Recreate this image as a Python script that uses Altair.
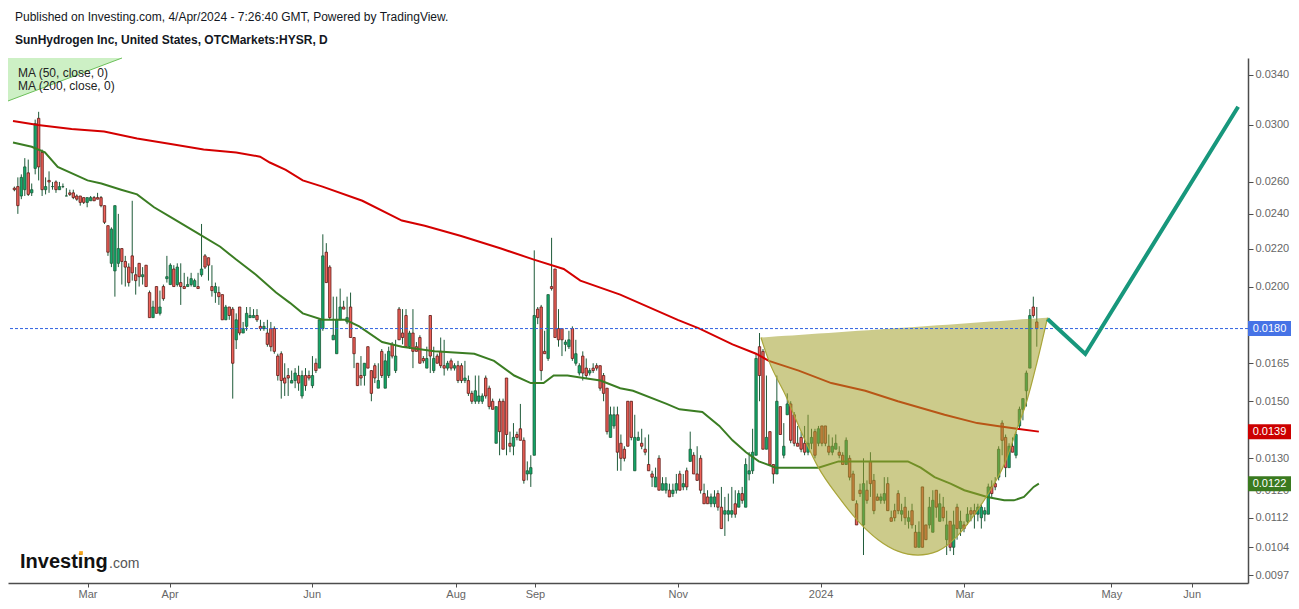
import altair as alt
import pandas as pd

FONT = "Liberation Sans, Arial, sans-serif"

# ---------------- daily candles ----------------
opens = [0.0256,0.0257,0.0251,0.0255,0.0266,0.0253,0.0269,0.0305,0.0280,0.0255,
         0.0261,0.0257,0.0260,0.0255,0.0257,0.0251,0.0253,0.0253,0.0251,0.0251,
         0.0250,0.0247,0.0248,0.0250,0.0250,0.0250,0.0245,0.0233,0.0212,0.0208,
         0.0212,0.0220,0.0213,0.0210,0.0216,0.0206,0.0212,0.0205,0.0211,0.0197,
         0.0185,0.0200,0.0187,0.0200,0.0204,0.0201,0.0209,0.0201,0.0202,0.0200,
         0.0200,0.0201,0.0200,0.0200,0.0206,0.0216,0.0215,0.0200,0.0197,0.0197,
         0.0196,0.0184,0.0190,0.0189,0.0175,0.0190,0.0178,0.0181,0.0185,0.0185,
         0.0186,0.0181,0.0180,0.0178,0.0180,0.0180,0.0168,0.0169,0.0159,0.0160,
         0.0157,0.0158,0.0160,0.0152,0.0160,0.0160,0.0156,0.0165,0.0163,0.0180,
         0.0218,0.0210,0.0175,0.0169,0.0184,0.0190,0.0183,0.0190,0.0176,0.0165,
         0.0160,0.0160,0.0172,0.0162,0.0164,0.0155,0.0170,0.0155,0.0160,0.0173,
         0.0162,0.0189,0.0178,0.0186,0.0172,0.0178,0.0172,0.0176,0.0167,0.0163,
         0.0186,0.0162,0.0168,0.0170,0.0164,0.0163,0.0166,0.0163,0.0164,0.0164,
         0.0158,0.0158,0.0153,0.0150,0.0150,0.0150,0.0159,0.0155,0.0150,0.0135,
         0.0150,0.0150,0.0159,0.0135,0.0134,0.0138,0.0140,0.0136,0.0125,0.0125,
         0.0131,0.0189,0.0190,0.0170,0.0167,0.0200,0.0209,0.0180,0.0180,0.0173,
         0.0172,0.0180,0.0165,0.0161,0.0168,0.0163,0.0161,0.0163,0.0164,0.0164,
         0.0160,0.0155,0.0137,0.0141,0.0145,0.0135,0.0133,0.0150,0.0150,0.0126,
         0.0136,0.0135,0.0133,0.0128,0.0125,0.0121,0.0130,0.0120,0.0120,0.0120,
         0.0119,0.0120,0.0125,0.0121,0.0126,0.0129,0.0131,0.0125,0.0130,0.0119,
         0.0118,0.0116,0.0116,0.0119,0.0115,0.0113,0.0113,0.0113,0.0116,0.0115,
         0.0119,0.0115,0.0125,0.0126,0.0131,0.0172,0.0170,0.0133,0.0139,0.0128,
         0.0125,0.0148,0.0131,0.0145,0.0149,0.0145,0.0135,0.0137,0.0135,0.0132,
         0.0135,0.0139,0.0135,0.0141,0.0141,0.0134,0.0132,0.0133,0.0132,0.0131,
         0.0128,0.0130,0.0125,0.0116,0.0120,0.0110,0.0120,0.0129,0.0123,0.0118,
         0.0117,0.0117,0.0122,0.0112,0.0114,0.0119,0.0113,0.0115,0.0111,0.0114,
         0.0108,0.0104,0.0121,0.0110,0.0110,0.0108,0.0120,0.0111,0.0115,0.0106,
         0.0111,0.0104,0.0115,0.0109,0.0110,0.0111,0.0114,0.0114,0.0113,0.0112,
         0.0113,0.0113,0.0121,0.0122,0.0124,0.0142,0.0137,0.0127,0.0134,0.0131,
         0.0141,0.0147,0.0154,0.0163,0.0190,0.0183]
highs = [0.0257,0.0263,0.0265,0.0276,0.0275,0.0259,0.0304,0.0310,0.0282,0.0263,
         0.0267,0.0260,0.0261,0.0260,0.0259,0.0256,0.0255,0.0255,0.0252,0.0251,
         0.0250,0.0250,0.0251,0.0251,0.0253,0.0251,0.0245,0.0233,0.0232,0.0245,
         0.0240,0.0220,0.0216,0.0212,0.0248,0.0210,0.0212,0.0210,0.0211,0.0198,
         0.0193,0.0200,0.0198,0.0201,0.0216,0.0212,0.0211,0.0212,0.0212,0.0207,
         0.0205,0.0207,0.0204,0.0207,0.0234,0.0217,0.0215,0.0211,0.0202,0.0200,
         0.0196,0.0191,0.0190,0.0190,0.0187,0.0190,0.0183,0.0190,0.0190,0.0189,
         0.0189,0.0184,0.0183,0.0184,0.0183,0.0181,0.0169,0.0170,0.0165,0.0163,
         0.0162,0.0163,0.0164,0.0162,0.0163,0.0162,0.0168,0.0167,0.0184,0.0228,
         0.0223,0.0211,0.0195,0.0195,0.0199,0.0193,0.0195,0.0197,0.0176,0.0165,
         0.0168,0.0165,0.0172,0.0162,0.0165,0.0165,0.0171,0.0169,0.0172,0.0174,
         0.0175,0.0190,0.0189,0.0189,0.0179,0.0189,0.0174,0.0177,0.0168,0.0172,
         0.0186,0.0172,0.0169,0.0176,0.0175,0.0166,0.0167,0.0165,0.0166,0.0165,
         0.0166,0.0160,0.0154,0.0160,0.0160,0.0153,0.0160,0.0156,0.0151,0.0148,
         0.0151,0.0151,0.0159,0.0139,0.0142,0.0139,0.0149,0.0137,0.0129,0.0131,
         0.0219,0.0190,0.0191,0.0179,0.0196,0.0226,0.0209,0.0189,0.0180,0.0175,
         0.0179,0.0181,0.0175,0.0165,0.0170,0.0167,0.0163,0.0165,0.0165,0.0164,
         0.0161,0.0155,0.0148,0.0148,0.0148,0.0138,0.0134,0.0150,0.0150,0.0145,
         0.0139,0.0140,0.0137,0.0138,0.0126,0.0127,0.0131,0.0124,0.0124,0.0122,
         0.0122,0.0125,0.0126,0.0125,0.0127,0.0139,0.0132,0.0134,0.0131,0.0122,
         0.0120,0.0119,0.0120,0.0120,0.0121,0.0118,0.0119,0.0121,0.0120,0.0120,
         0.0121,0.0130,0.0132,0.0140,0.0169,0.0178,0.0171,0.0160,0.0139,0.0128,
         0.0160,0.0148,0.0142,0.0153,0.0150,0.0146,0.0141,0.0139,0.0141,0.0145,
         0.0140,0.0140,0.0141,0.0141,0.0141,0.0138,0.0137,0.0138,0.0134,0.0132,
         0.0137,0.0131,0.0126,0.0117,0.0122,0.0130,0.0123,0.0132,0.0125,0.0119,
         0.0119,0.0124,0.0124,0.0114,0.0116,0.0120,0.0116,0.0118,0.0114,0.0116,
         0.0110,0.0111,0.0121,0.0110,0.0118,0.0120,0.0120,0.0119,0.0118,0.0114,
         0.0111,0.0114,0.0116,0.0114,0.0111,0.0115,0.0115,0.0116,0.0116,0.0116,
         0.0115,0.0122,0.0123,0.0124,0.0134,0.0143,0.0138,0.0135,0.0137,0.0139,
         0.0148,0.0151,0.0162,0.0189,0.0195,0.0190]
lows = [0.0254,0.0240,0.0249,0.0251,0.0251,0.0251,0.0265,0.0261,0.0251,0.0252,
        0.0253,0.0255,0.0253,0.0255,0.0256,0.0251,0.0251,0.0249,0.0248,0.0245,
        0.0246,0.0244,0.0248,0.0248,0.0249,0.0244,0.0234,0.0216,0.0210,0.0195,
        0.0210,0.0201,0.0200,0.0200,0.0203,0.0196,0.0200,0.0201,0.0200,0.0185,
        0.0185,0.0187,0.0186,0.0193,0.0202,0.0201,0.0200,0.0200,0.0191,0.0199,
        0.0200,0.0200,0.0200,0.0199,0.0205,0.0209,0.0203,0.0195,0.0192,0.0191,
        0.0184,0.0184,0.0184,0.0151,0.0171,0.0177,0.0178,0.0179,0.0185,0.0185,
        0.0183,0.0179,0.0179,0.0172,0.0170,0.0169,0.0158,0.0151,0.0152,0.0152,
        0.0157,0.0155,0.0154,0.0151,0.0154,0.0158,0.0155,0.0161,0.0163,0.0179,
        0.0202,0.0184,0.0175,0.0169,0.0184,0.0189,0.0182,0.0176,0.0163,0.0156,
        0.0156,0.0156,0.0163,0.0150,0.0157,0.0155,0.0159,0.0155,0.0159,0.0167,
        0.0161,0.0175,0.0173,0.0172,0.0171,0.0163,0.0170,0.0165,0.0165,0.0163,
        0.0161,0.0161,0.0165,0.0163,0.0160,0.0162,0.0162,0.0162,0.0157,0.0157,
        0.0157,0.0152,0.0149,0.0149,0.0149,0.0149,0.0151,0.0147,0.0147,0.0135,
        0.0131,0.0133,0.0131,0.0132,0.0131,0.0136,0.0136,0.0122,0.0123,0.0121,
        0.0131,0.0182,0.0158,0.0169,0.0166,0.0198,0.0176,0.0172,0.0168,0.0170,
        0.0171,0.0166,0.0164,0.0160,0.0158,0.0159,0.0160,0.0161,0.0162,0.0154,
        0.0150,0.0138,0.0137,0.0140,0.0126,0.0126,0.0129,0.0134,0.0136,0.0126,
        0.0136,0.0133,0.0131,0.0126,0.0121,0.0121,0.0120,0.0120,0.0119,0.0118,
        0.0118,0.0119,0.0120,0.0120,0.0120,0.0129,0.0125,0.0123,0.0119,0.0116,
        0.0116,0.0115,0.0115,0.0114,0.0109,0.0107,0.0111,0.0112,0.0112,0.0115,
        0.0116,0.0115,0.0123,0.0125,0.0131,0.0150,0.0133,0.0133,0.0128,0.0122,
        0.0125,0.0138,0.0130,0.0145,0.0135,0.0134,0.0134,0.0132,0.0131,0.0131,
        0.0133,0.0130,0.0134,0.0134,0.0134,0.0131,0.0131,0.0133,0.0130,0.0128,
        0.0128,0.0123,0.0117,0.0110,0.0118,0.0102,0.0116,0.0118,0.0113,0.0117,
        0.0116,0.0116,0.0114,0.0111,0.0111,0.0113,0.0111,0.0110,0.0109,0.0109,
        0.0104,0.0104,0.0104,0.0106,0.0109,0.0108,0.0112,0.0111,0.0111,0.0102,
        0.0103,0.0102,0.0106,0.0107,0.0108,0.0110,0.0111,0.0109,0.0111,0.0109,
        0.0111,0.0113,0.0118,0.0120,0.0123,0.0131,0.0124,0.0127,0.0132,0.0130,
        0.0140,0.0143,0.0148,0.0163,0.0185,0.0172]
closes = [0.0255,0.0245,0.0263,0.0270,0.0252,0.0255,0.0301,0.0270,0.0255,0.0257,
          0.0260,0.0257,0.0255,0.0257,0.0257,0.0251,0.0252,0.0250,0.0249,0.0247,
          0.0247,0.0250,0.0250,0.0248,0.0249,0.0245,0.0235,0.0218,0.0231,0.0245,
          0.0220,0.0213,0.0210,0.0202,0.0207,0.0203,0.0205,0.0206,0.0200,0.0185,
          0.0190,0.0187,0.0190,0.0194,0.0205,0.0211,0.0200,0.0210,0.0200,0.0199,
          0.0201,0.0204,0.0203,0.0199,0.0209,0.0210,0.0211,0.0198,0.0200,0.0195,
          0.0184,0.0190,0.0186,0.0165,0.0184,0.0178,0.0180,0.0187,0.0186,0.0186,
          0.0184,0.0180,0.0181,0.0173,0.0172,0.0170,0.0160,0.0158,0.0157,0.0159,
          0.0158,0.0161,0.0157,0.0160,0.0156,0.0159,0.0160,0.0162,0.0184,0.0216,
          0.0202,0.0185,0.0177,0.0184,0.0190,0.0189,0.0185,0.0176,0.0169,0.0156,
          0.0159,0.0165,0.0163,0.0153,0.0159,0.0158,0.0160,0.0166,0.0170,0.0168,
          0.0168,0.0175,0.0176,0.0172,0.0178,0.0170,0.0170,0.0165,0.0166,0.0167,
          0.0168,0.0167,0.0165,0.0164,0.0163,0.0165,0.0163,0.0164,0.0158,0.0158,
          0.0159,0.0153,0.0150,0.0154,0.0152,0.0152,0.0152,0.0148,0.0147,0.0148,
          0.0139,0.0133,0.0138,0.0134,0.0137,0.0137,0.0136,0.0123,0.0126,0.0127,
          0.0186,0.0185,0.0162,0.0169,0.0196,0.0199,0.0176,0.0175,0.0175,0.0174,
          0.0175,0.0167,0.0169,0.0164,0.0161,0.0160,0.0162,0.0162,0.0163,0.0155,
          0.0153,0.0139,0.0145,0.0145,0.0132,0.0130,0.0130,0.0134,0.0137,0.0137,
          0.0137,0.0134,0.0132,0.0126,0.0124,0.0124,0.0120,0.0122,0.0122,0.0118,
          0.0120,0.0122,0.0120,0.0122,0.0121,0.0133,0.0125,0.0123,0.0120,0.0116,
          0.0116,0.0118,0.0118,0.0115,0.0109,0.0114,0.0114,0.0114,0.0113,0.0119,
          0.0117,0.0128,0.0126,0.0132,0.0167,0.0160,0.0133,0.0137,0.0128,0.0125,
          0.0150,0.0138,0.0134,0.0149,0.0136,0.0135,0.0134,0.0133,0.0132,0.0135,
          0.0137,0.0131,0.0140,0.0135,0.0135,0.0132,0.0134,0.0135,0.0131,0.0128,
          0.0136,0.0124,0.0117,0.0110,0.0119,0.0122,0.0117,0.0122,0.0114,0.0117,
          0.0118,0.0119,0.0114,0.0111,0.0112,0.0114,0.0114,0.0112,0.0112,0.0110,
          0.0104,0.0108,0.0104,0.0106,0.0115,0.0117,0.0115,0.0116,0.0112,0.0110,
          0.0104,0.0110,0.0109,0.0111,0.0109,0.0113,0.0113,0.0113,0.0115,0.0115,
          0.0114,0.0121,0.0119,0.0121,0.0133,0.0136,0.0127,0.0134,0.0132,0.0138,
          0.0147,0.0151,0.0161,0.0186,0.0186,0.0180]

# ---------------- moving averages ----------------
ma50_x = [-0.4, 5.0, 8.8, 12.5, 21.1, 25.1, 30.8, 35.4, 40.3, 45.1,
          52.6, 59.4, 64.0, 69.7, 75.5, 79.5, 83.2, 88.9, 95.5, 99.5,
          106.1, 111.8, 121.2, 132.7, 138.4, 144.2, 149.0, 152.7, 155.6, 159.6,
          164.2, 169.1, 174.8, 178.5, 188.2, 191.9, 198.5, 203.4, 207.2, 211.1,
          214.8, 219.7, 232.0, 237.8, 257.8, 261.5, 265.5, 270.1, 274.1, 280.7,
          285.6, 288.4, 291.3, 294.1, 295.6]
ma50_y = [0.0287, 0.0284, 0.0280, 0.0270, 0.0261, 0.0259, 0.0255, 0.0252, 0.0244, 0.0238,
          0.0229, 0.0221, 0.0214, 0.0206, 0.0197, 0.0192, 0.0187, 0.0184, 0.0184, 0.0181,
          0.0174, 0.0172, 0.0170, 0.0169, 0.0166, 0.0160, 0.0157, 0.0157, 0.0160, 0.0160,
          0.0159, 0.0158, 0.0155, 0.0154, 0.0149, 0.0147, 0.0146, 0.0141, 0.0136, 0.0132,
          0.0129, 0.0127, 0.0127, 0.0129, 0.0129, 0.0127, 0.0124, 0.0122, 0.0120, 0.0118,
          0.0117, 0.0117, 0.0118, 0.0121, 0.0122]
ma200_x = [-0.4, 6.8, 16.5, 25.9, 35.4, 45.1, 54.6, 64.0, 70.9, 73.7,
           78.3, 83.2, 88.9, 100.4, 111.8, 118.4, 128.9, 140.4, 149.9, 158.5,
           163.3, 174.8, 191.4, 197.7, 207.2, 214.0, 217.7, 226.3, 235.7, 245.5,
           254.9, 268.4, 277.8, 283.6, 289.3, 295.6]
ma200_y = [0.0303, 0.0300, 0.0297, 0.0295, 0.0290, 0.0286, 0.0282, 0.0280, 0.0277, 0.0273,
           0.0268, 0.0261, 0.0257, 0.0248, 0.0236, 0.0233, 0.0227, 0.0220, 0.0214, 0.0209,
           0.0203, 0.0196, 0.0184, 0.0180, 0.0173, 0.0169, 0.0166, 0.0162, 0.0157, 0.0154,
           0.0150, 0.0145, 0.0142, 0.0141, 0.0140, 0.0139]

# ---------------- drawings (cup & handle, projection) ----------------
cup_x = [215.4, 217.7, 222.6, 226.3, 232.0, 237.8, 243.5, 249.2, 254.9, 260.7,
         266.4, 272.1, 277.8, 281.6, 285.6, 289.3, 292.1, 295.0, 298.1]
cup_y = [0.0176, 0.0166, 0.0152, 0.0141, 0.0127, 0.0118, 0.0111, 0.0106, 0.0103, 0.0102,
         0.0103, 0.0107, 0.0114, 0.0120, 0.0128, 0.0140, 0.0150, 0.0165, 0.0185]
target_x = [298.1, 309.0, 353.1]
target_y = [0.01844, 0.01689, 0.0314]

# ---------------- price labels & axes ----------------
tag_values = [0.0180, 0.0139, 0.0122]
tag_colors = ["#4673e6", "#cc0000", "#3a7a1f"]
y_ticks = [0.0097, 0.0104, 0.0112, 0.0120, 0.0130, 0.0150, 0.0165, 0.0180,
           0.0200, 0.0220, 0.0240, 0.0260, 0.0300, 0.0340]
x_tick_pos = [21.1, 44.8, 85.8, 127.3, 150.2, 191.4, 232.6, 274.1, 316.5, 339.7]
x_tick_labels = ["Mar", "Apr", "Jun", "Aug", "Sep", "Nov", "2024", "Mar", "May", "Jun"]

title_line1 = "Published on Investing.com, 4/Apr/2024 - 7:26:40 GMT, Powered by TradingView."
title_line2 = "SunHydrogen Inc, United States, OTCMarkets:HYSR, D"
legend_lines = ["MA (50, close, 0)", "MA (200, close, 0)"]

# ---------------- build ----------------
candles = pd.DataFrame({"i": list(range(len(opens))), "open": opens, "high": highs,
                        "low": lows, "close": closes})
ma50 = pd.DataFrame({"i": ma50_x, "p": ma50_y})
ma200 = pd.DataFrame({"i": ma200_x, "p": ma200_y})
cup = pd.DataFrame({"i": cup_x, "p": cup_y})
target = pd.DataFrame({"i": target_x, "p": target_y})
tags = pd.DataFrame({"p": tag_values, "c": tag_colors})
last = pd.DataFrame({"p": [tag_values[0]]})

W, H = 1240, 525
xs = alt.Scale(domain=[-0.4, 354.5], nice=False, zero=False)
ys = alt.Scale(type="log", domain=[0.009509, 0.03548], nice=False, zero=False)

vals = ",".join(str(v) for v in x_tick_pos)
labs = ",".join("'%s'" % l for l in x_tick_labels)
label_expr = "[%s][indexof([%s], datum.value)]" % (labs, vals)
# the last-price tag covers its own axis label, as in the picture
y_label_expr = "abs(datum.value - %s) < 1e-9 ? '' : format(datum.value, '.4f')" % tag_values[0]

x_axis = alt.Axis(values=x_tick_pos, labelExpr=label_expr, title=None, grid=False,
                  domainColor="#4d4d4d", domainWidth=1.5, tickColor="#4d4d4d", tickSize=4,
                  labelColor={"expr": "datum.label == '2024' ? '#333333' : '#666666'"},
                  labelFontWeight={"expr": "datum.label == '2024' ? 'bold' : 'normal'"},
                  labelFontSize=11, labelPadding=1, labelOverlap=False, labelFlush=False,
                  labelFont=FONT)
y_axis = alt.Axis(orient="right", values=y_ticks, labelExpr=y_label_expr, title=None,
                  grid=False, domainColor="#4d4d4d", domainWidth=1.5, tickColor="#4d4d4d",
                  tickSize=5, labelColor="#666666", labelFontSize=11, labelPadding=2,
                  labelOverlap=False, labelFlush=False, labelFont=FONT)


def X(f):
    return alt.X(f, scale=xs, axis=x_axis)


def Y(f):
    return alt.Y(f, scale=ys, axis=y_axis)


up = "datum.close >= datum.open"
wicks = alt.Chart(candles).mark_rule(color="#1f5b3a", strokeWidth=1).encode(
    x=X("i:Q"), y=Y("low:Q"), y2="high:Q")
bodies = alt.Chart(candles).mark_bar(size=2.4, strokeWidth=0.8, orient="vertical").encode(
    x=X("i:Q"), y=Y("open:Q"), y2="close:Q",
    fill=alt.condition(up, alt.value("#12a86a"), alt.value("#f0625a")),
    stroke=alt.condition(up, alt.value("#1d5a37"), alt.value("#5e1b16")))

ma200_line = alt.Chart(ma200).mark_line(color="#d40000", strokeWidth=2).encode(
    x=X("i:Q"), y=Y("p:Q"))
ma50_line = alt.Chart(ma50).mark_line(color="#3b7d23", strokeWidth=2).encode(
    x=X("i:Q"), y=Y("p:Q"))

top_expr = "exp(log(%f) + (datum.i - %f) / (%f - %f) * (log(%f) - log(%f)))" % (
    cup_y[0], cup_x[0], cup_x[-1], cup_x[0], cup_y[-1], cup_y[0])
cup_area = alt.Chart(cup).transform_calculate(top=top_expr).mark_area(
    color="#a09e29", opacity=0.54, interpolate="monotone").encode(
    x=X("i:Q"), y=Y("p:Q"), y2="top:Q")
cup_edge = alt.Chart(cup).mark_line(color="#a9a53a", strokeWidth=1.2,
                                    interpolate="monotone").encode(x=X("i:Q"), y=Y("p:Q"))

last_rule = alt.Chart(last).mark_rule(color="#2f63e0", strokeWidth=1,
                                      strokeDash=[3, 2]).encode(y=Y("p:Q"))
target_line = alt.Chart(target).mark_line(color="#17977c", strokeWidth=4).encode(
    x=X("i:Q"), y=Y("p:Q"))

tag_box = alt.Chart(tags).mark_rect(yOffset=-7.5, y2Offset=7.5).encode(
    x=alt.value(W), x2=alt.value(W + 43), y=Y("p:Q"), y2="p:Q",
    color=alt.Color("c:N", scale=None))
tag_text = alt.Chart(tags).mark_text(color="white", fontSize=11, font=FONT,
                                     align="center", baseline="middle").encode(
    x=alt.value(W + 21.5), y=Y("p:Q"), text=alt.Text("p:Q", format=".4f"))

one = pd.DataFrame({"k": [0]})
tri = alt.Chart(one).mark_point(shape="M0,0L1,0L0,0.377Z", size=228 ** 2, filled=True,
                                color="#cdf0c5", opacity=1).encode(
    x=alt.value(0), y=alt.value(0))
tri_edge = alt.Chart(one).mark_point(shape="M0,0.377L1,0", size=228 ** 2, filled=False,
                                     color="#6cbf5a", strokeWidth=1, opacity=1).encode(
    x=alt.value(0), y=alt.value(0))

leg = pd.DataFrame({"t": legend_lines, "y": [15, 28]})
legend_text = alt.Chart(leg).mark_text(align="left", baseline="middle", fontSize=12,
                                       font=FONT, color="#222222").encode(
    x=alt.value(10), y=alt.Y("y:Q", scale=None), text="t:N")

titles = pd.DataFrame({"t": [title_line1, title_line2], "y": [-41, -18]})
t1 = alt.Chart(titles.iloc[[0]]).mark_text(align="left", baseline="middle", fontSize=12,
                                           font=FONT, color="#131722").encode(
    x=alt.value(7), y=alt.Y("y:Q", scale=None), text="t:N")
t2 = alt.Chart(titles.iloc[[1]]).mark_text(align="left", baseline="middle", fontSize=12,
                                           font=FONT, fontWeight="bold",
                                           color="#131722").encode(
    x=alt.value(7), y=alt.Y("y:Q", scale=None), text="t:N")

logo = pd.DataFrame({"a": ["Investing"], "b": [".com"]})
logo1 = alt.Chart(logo).mark_text(align="left", baseline="alphabetic", fontSize=20,
                                  font=FONT, fontWeight="bold", color="#111111").encode(
    x=alt.value(12), y=alt.value(510), text="a:N")
logo2 = alt.Chart(logo).mark_text(align="left", baseline="alphabetic", fontSize=14,
                                  font=FONT, color="#555555").encode(
    x=alt.value(101), y=alt.value(510), text="b:N")
logo_dot = alt.Chart(one).mark_point(shape="square", filled=True, color="#f5a31a",
                                     size=14, opacity=1).encode(
    x=alt.value(73), y=alt.value(495))

chart = alt.layer(
    wicks, bodies, ma200_line, ma50_line, cup_area, cup_edge, last_rule, target_line,
    tag_box, tag_text, tri, tri_edge, legend_text, t1, t2, logo1, logo2, logo_dot
).properties(
    width=W, height=H,
    autosize=alt.AutoSizeParams(type="none"),
    padding={"left": 0, "top": 50, "right": 43, "bottom": 17},
    background="white",
).configure_view(stroke=None)

chart.save("out.html", embed_options={"renderer": "svg", "actions": False})
